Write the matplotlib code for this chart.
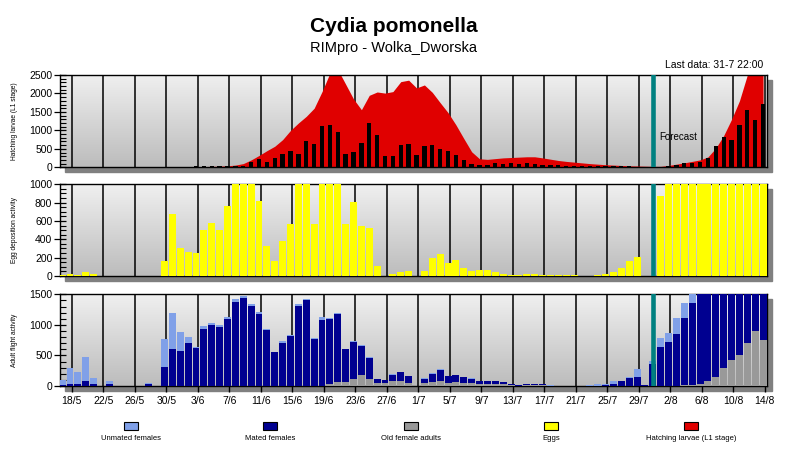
import numpy as np
import matplotlib
matplotlib.use("Agg")
import matplotlib.pyplot as plt
from matplotlib.colors import LinearSegmentedColormap
from matplotlib.patches import Rectangle

# daily values, 17/5 .. 14/8 (90 days)
larvae_curve = [0] * 16 + [
    10, 15, 20, 25, 30, 40, 60, 100, 200, 320, 450, 570, 750, 1000, 1200, 1380,
    1600, 2050, 2550, 2650, 2250, 1850, 1560, 1950, 2040, 2010, 2050, 2320, 2360, 2150,
    2230, 2030, 1750, 1480, 1150, 780, 420, 230, 215, 235, 255, 265, 275, 285, 285,
    255, 220, 185, 160, 140, 120, 100, 85, 70, 60, 50, 40, 35, 30, 25, 25,
    50, 85, 120, 160, 200, 280, 520, 860, 1300, 1800, 2500, 2700, 2800]
larvae_daily = [0] * 17 + [
    27, 27, 27, 27, 27, 45, 45, 144, 226, 135, 253, 361, 451, 361, 722, 632,
    1115, 1140, 950, 355, 403, 645, 1205, 870, 305, 305, 615, 632, 330, 585, 600,
    495, 450, 330, 205, 90, 54, 54, 108, 90, 108, 90, 108, 90, 63, 63, 54, 36, 36,
    36, 36, 27, 36, 27, 27, 27, 18, 18, 0, 18, 36, 63, 108, 108, 153, 244, 578,
    812, 740, 1146, 1552, 1282, 1715]
eggs = [15, 22, 15, 44, 22] + [0] * 8 + [
    165, 675, 307, 262, 251, 502, 582, 502, 764, 1000, 1000, 1000, 815, 327, 164,
    382, 564, 1000, 1000, 564, 1000, 1000, 1000, 565, 804, 548, 518, 113, 0, 20,
    42, 56, 0, 56, 198, 242, 140, 173, 85, 58, 62, 62, 45, 20, 13, 16, 20, 20, 16,
    13, 13, 13, 13, 5, 5, 10, 20, 42, 86, 162, 208, 0, 0, 875] + [1000] * 13
old_females = [0] * 33 + [
    5, 25, 60, 65, 110, 175, 110, 50, 45, 75, 80, 45, 0, 50, 65, 80, 50, 65, 55,
    50, 35, 30, 30, 25, 10, 5, 10, 10, 10, 3, 0, 0, 0, 0, 0, 0, 0, 0, 0, 0, 0,
    0, 0, 0, 0, 0, 10, 16, 33, 80, 148, 287, 428, 500, 706, 892, 760]
mated_females = [
    10, 25, 25, 75, 40, 0, 35, 0, 0, 0, 0, 30, 0, 310, 605, 575, 703, 622, 933,
    993, 965, 1096, 1380, 1445, 1309, 1178, 916, 551, 704, 818, 1309, 1407, 764,
    1080, 1066, 1125, 540, 615, 480, 355, 65, 48, 110, 144, 119, 0, 72, 135, 188,
    115, 110, 87, 70, 43, 48, 48, 40, 18, 7, 20, 20, 20, 5, 2, 2, 3, 2, 2, 5, 10,
    40, 85, 125, 153, 22, 360, 644, 725, 856, 1108, 1348, 1567, 1520, 1452, 1313,
    1172, 1100, 894, 708, 840]
unmated_females = [
    90, 265, 205, 400, 90, 0, 45, 0, 0, 0, 0, 25, 0, 460, 590, 309, 95, 16, 43,
    32, 33, 33, 38, 28, 33, 33, 22, 11, 32, 17, 33, 17, 27, 49, 27, 10, 5, 10,
    10, 15, 5, 5, 5, 4, 4, 0, 3, 7, 5, 4, 5, 5, 5, 4, 4, 4, 6, 5, 4, 3, 3, 3, 2,
    3, 3, 5, 3, 10, 28, 23, 42, 2, 28, 120, 0, 49, 136, 148, 251, 246, 156] + [0] * 9

tick_labels = ["18/5", "22/5", "26/5", "30/5", "3/6", "7/6", "11/6", "15/6", "19/6",
               "23/6", "27/6", "1/7", "5/7", "9/7", "13/7", "17/7", "21/7", "25/7",
               "29/7", "2/8", "6/8", "10/8", "14/8"]
forecast_day = 75

C_UNMATED, C_MATED, C_OLD = "#80a0e8", "#000090", "#999999"
C_EGG, C_RED, C_TEAL = "#ffff00", "#e00000", "#008080"

plt.rcParams["font.family"] = ["Liberation Sans", "DejaVu Sans"]

W, H = 788, 450
fig = plt.figure(figsize=(W / 100, H / 100), dpi=100)
x = np.arange(len(eggs))
line_pos = np.arange(1, len(eggs), 4) + 0.22
grad_cmap = LinearSegmentedColormap.from_list("bg", ["#f0f0f0", "#bcbcbc"])


def panel(top, bottom, ymax, major, minor, ylabel):
    left, right = 60, 767
    # drop shadow behind the frame
    fig.add_artist(Rectangle(((left + 5) / W, 1 - (bottom + 5) / H), (right - left) / W,
                             (bottom - top) / H, transform=fig.transFigure,
                             color="#808080", zorder=-1))
    ax = fig.add_axes([left / W, 1 - bottom / H, (right - left) / W, (bottom - top) / H])
    ax.imshow(np.linspace(0, 1, 256).reshape(-1, 1), extent=[0, 1, 0, 1],
              transform=ax.transAxes, cmap=grad_cmap, aspect="auto", zorder=0)
    for p in line_pos:
        ax.axvline(p, color="black", lw=1.1, zorder=1)
    ax.axvline(forecast_day + 0.05, color=C_TEAL, lw=3.3, zorder=5)
    ax.set_xlim(-0.27, 89.5)
    ax.set_ylim(0, ymax)
    ax.set_yticks(np.arange(0, ymax + 1, major))
    ax.set_yticks(np.arange(0, ymax + 1, minor), minor=True)
    ax.tick_params(axis="y", which="major", direction="inout", length=8, width=0.9,
                   labelsize=7.5, pad=1.5)
    ax.tick_params(axis="y", which="minor", direction="in", length=4.5, width=0.8)
    ax.set_xticks(line_pos)
    ax.tick_params(axis="x", length=0, labelbottom=False)
    for s in ax.spines.values():
        s.set_linewidth(1.0)
    fig.text(15 / W, 1 - (top + bottom) / 2 / H, ylabel, rotation=90, ha="center",
             va="center", fontsize=4.8)
    return ax


ax1 = panel(75, 167.3, 2500, 500, 100, "Hatching larvae (L1 stage)")
ax1.fill_between(x, larvae_curve, color=C_RED, lw=0, zorder=2)
ax1.bar(x, larvae_daily, width=0.55, color="black", zorder=3)
ax1.text(forecast_day + 0.8, 820, "Forecast", fontsize=7, ha="left", va="center", zorder=6)

ax2 = panel(184.3, 276, 1000, 200, 50, "Egg deposition activity")
ax2.bar(x, eggs, width=0.88, color=C_EGG, zorder=3)

ax3 = panel(294.3, 386, 1500, 500, 100, "Adult flight activity")
old = np.array(old_females)
mated = np.array(mated_females)
ax3.bar(x, old, width=0.88, color=C_OLD, zorder=3)
ax3.bar(x, mated, bottom=old, width=0.88, color=C_MATED, zorder=3)
ax3.bar(x, unmated_females, bottom=old + mated, width=0.88, color=C_UNMATED, zorder=3)
ax3.set_xticklabels(tick_labels)
ax3.tick_params(axis="x", direction="out", length=4, width=1, labelbottom=True,
                labelsize=7.5, pad=3.5)

fig.text(394 / W, 1 - 26 / H, "Cydia pomonella", ha="center", va="center",
         fontsize=15, fontweight="bold")
fig.text(394 / W, 1 - 48 / H, "RIMpro - Wolka_Dworska", ha="center", va="center",
         fontsize=10.5)
fig.text(763 / W, 1 - 65 / H, "Last data: 31-7 22:00", ha="right", va="center",
         fontsize=7.5)

legend = [("Unmated females", C_UNMATED, 131), ("Mated females", C_MATED, 270),
          ("Old female adults", C_OLD, 411), ("Eggs", C_EGG, 551),
          ("Hatching larvae (L1 stage)", C_RED, 691)]
for name, col, cx in legend:
    fig.add_artist(Rectangle(((cx - 7) / W, 1 - 430 / H), 14 / W, 8 / H,
                             transform=fig.transFigure, facecolor=col,
                             edgecolor="black", lw=0.8))
    fig.text(cx / W, 1 - 438 / H, name, ha="center", va="center", fontsize=5.5)

fig.savefig("out.png", dpi=100)
